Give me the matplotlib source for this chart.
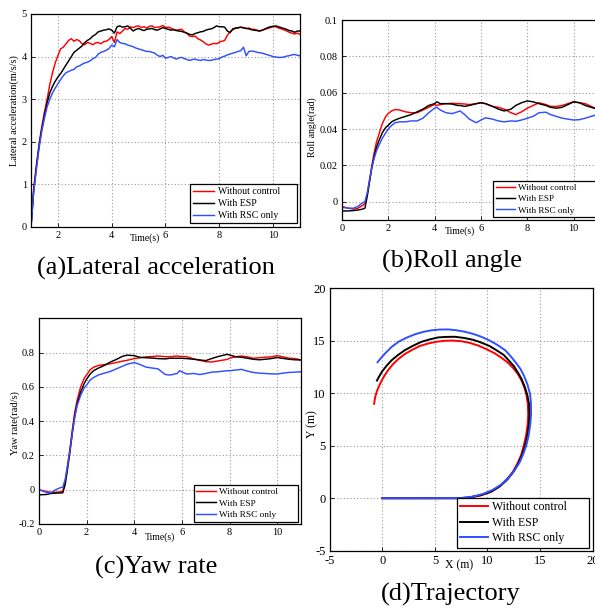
import numpy as np
import matplotlib
matplotlib.use('Agg')
from matplotlib import pyplot as plt

plt.rcParams['font.family'] = ['Liberation Serif', 'DejaVu Serif']
plt.rcParams['axes.unicode_minus'] = False

labels = ['Without control', 'With ESP', 'With RSC only']
colors = ['#ff0000', '#000000', '#3050ff']

# (a) lateral acceleration, sampled every 0.1 s from 1 s to 11 s
t_a = np.linspace(1.0, 11.0, 101)
acc_red = [0.0, 0.9, 1.45, 1.95, 2.35, 2.7, 3.0, 3.35, 3.62, 3.85,
           4.02, 4.18, 4.22, 4.3, 4.38, 4.42, 4.36, 4.4, 4.37, 4.3,
           4.28, 4.33, 4.31, 4.28, 4.32, 4.33, 4.3, 4.35, 4.36, 4.4,
           4.47, 4.33, 4.58, 4.54, 4.6, 4.66, 4.64, 4.7, 4.68, 4.71,
           4.72, 4.68, 4.7, 4.67, 4.71, 4.72, 4.68, 4.69, 4.7, 4.73,
           4.68, 4.69, 4.67, 4.64, 4.62, 4.63, 4.64, 4.58, 4.54, 4.48,
           4.47, 4.48, 4.42, 4.39, 4.35, 4.3, 4.27, 4.29, 4.31, 4.3,
           4.34, 4.36, 4.38, 4.5, 4.58, 4.63, 4.66, 4.67, 4.69, 4.68,
           4.66, 4.67, 4.64, 4.64, 4.62, 4.6, 4.62, 4.64, 4.66, 4.68,
           4.7, 4.7, 4.67, 4.65, 4.63, 4.6, 4.57, 4.55, 4.53, 4.55,
           4.52]
acc_black = [0.0, 0.85, 1.4, 1.9, 2.3, 2.62, 2.92, 3.15, 3.3, 3.42,
             3.52, 3.6, 3.7, 3.8, 3.9, 4.0, 4.1, 4.15, 4.2, 4.25,
             4.33, 4.38, 4.42, 4.48, 4.52, 4.58, 4.6, 4.62, 4.63, 4.65,
             4.62, 4.55, 4.7, 4.72, 4.69, 4.7, 4.72, 4.66, 4.6, 4.64,
             4.66, 4.63, 4.61, 4.64, 4.65, 4.66, 4.63, 4.62, 4.65, 4.68,
             4.66, 4.64, 4.62, 4.63, 4.61, 4.6, 4.59, 4.57, 4.55, 4.52,
             4.51, 4.54, 4.56, 4.58, 4.59, 4.62, 4.64, 4.65, 4.68, 4.72,
             4.7, 4.7, 4.69, 4.6, 4.56, 4.65, 4.67, 4.68, 4.69, 4.67,
             4.66, 4.65, 4.63, 4.62, 4.61, 4.6, 4.62, 4.65, 4.68, 4.7,
             4.71, 4.72, 4.7, 4.68, 4.66, 4.64, 4.61, 4.6, 4.57, 4.6,
             4.6]
acc_blue = [0.0, 0.82, 1.35, 1.85, 2.25, 2.55, 2.82, 3.0, 3.15, 3.26,
            3.36, 3.46, 3.55, 3.62, 3.65, 3.68, 3.7, 3.76, 3.78, 3.82,
            3.85, 3.87, 3.9, 3.95, 3.98, 4.06, 4.1, 4.12, 4.15, 4.19,
            4.27, 4.23, 4.4, 4.33, 4.31, 4.3, 4.27, 4.25, 4.23, 4.2,
            4.18, 4.16, 4.14, 4.12, 4.12, 4.1, 4.08, 4.03, 4.0, 4.03,
            3.96, 3.98, 4.0, 3.97, 3.94, 3.97, 3.98, 3.95, 3.93, 3.91,
            3.93, 3.94, 3.92, 3.91, 3.93, 3.92, 3.91, 3.91, 3.93, 3.94,
            3.95, 3.99, 4.01, 4.04, 4.06, 4.08, 4.1, 4.12, 4.14, 4.22,
            4.02, 4.12, 4.13, 4.12, 4.1, 4.09, 4.08, 4.06, 4.04, 4.02,
            4.0, 3.99, 3.98, 3.98, 3.99, 4.01, 4.02, 4.04, 4.05, 4.03,
            4.02]

# (b) roll angle
t_b = [0, 0.3, 0.5, 0.7, 0.9, 1.0, 1.1, 1.2, 1.3, 1.4,
       1.5, 1.6, 1.75, 1.9, 2.0, 2.15, 2.3, 2.5, 2.75, 3.0,
       3.25, 3.5, 3.75, 4.0, 4.1, 4.25, 4.5, 4.75, 5.0, 5.1,
       5.3, 5.5, 5.8, 6.0, 6.2, 6.5, 6.75, 7.0, 7.3, 7.5,
       7.75, 8.0, 8.25, 8.5, 8.8, 9.0, 9.25, 9.5, 9.75, 10.0,
       10.25, 10.5, 10.75, 11.0]
roll_red = [-0.0025, -0.0035, -0.004, -0.0035, -0.002, -0.001, 0.004, 0.012, 0.02, 0.027,
            0.033, 0.037, 0.043, 0.047, 0.0485, 0.05, 0.0508, 0.0505, 0.0495, 0.049,
            0.049, 0.0505, 0.052, 0.0535, 0.053, 0.0535, 0.054, 0.0542, 0.054, 0.054,
            0.0538, 0.0535, 0.054, 0.0545, 0.054, 0.0525, 0.052, 0.051, 0.049, 0.048,
            0.0495, 0.0515, 0.053, 0.0545, 0.0535, 0.0525, 0.0525, 0.053, 0.054, 0.055,
            0.0545, 0.054, 0.0525, 0.051]
roll_black = [-0.005, -0.005, -0.0048, -0.0045, -0.004, -0.0035, 0.003, 0.011, 0.019, 0.025,
              0.03, 0.0335, 0.038, 0.041, 0.042, 0.044, 0.045, 0.046, 0.047, 0.048,
              0.0495, 0.051, 0.053, 0.054, 0.055, 0.054, 0.054, 0.0538, 0.053, 0.053,
              0.0525, 0.053, 0.054, 0.0545, 0.054, 0.0525, 0.051, 0.05, 0.051, 0.053,
              0.0545, 0.0555, 0.055, 0.054, 0.053, 0.052, 0.0515, 0.052, 0.0535, 0.055,
              0.0545, 0.053, 0.052, 0.051]
roll_blue = [-0.003, -0.0035, -0.0035, -0.0025, -0.0005, 0.0, 0.005, 0.012, 0.019, 0.024,
             0.028, 0.031, 0.035, 0.038, 0.04, 0.042, 0.0435, 0.044, 0.044, 0.0445,
             0.0445, 0.046, 0.049, 0.0515, 0.052, 0.0505, 0.049, 0.0485, 0.0495, 0.05,
             0.048, 0.0455, 0.0435, 0.045, 0.0462, 0.0455, 0.0445, 0.044, 0.0445, 0.0443,
             0.045, 0.046, 0.047, 0.049, 0.0493, 0.048, 0.047, 0.046, 0.0455, 0.045,
             0.0452, 0.046, 0.047, 0.048]

# (c) yaw rate
t_c = [0, 0.3, 0.5, 0.7, 0.9, 1.0, 1.1, 1.2, 1.3, 1.4,
       1.5, 1.6, 1.75, 1.9, 2.0, 2.15, 2.3, 2.5, 2.75, 3.0,
       3.25, 3.5, 3.7, 4.0, 4.25, 4.5, 4.75, 5.0, 5.3, 5.5,
       5.8, 5.9, 6.2, 6.5, 6.75, 7.0, 7.25, 7.5, 7.9, 8.0,
       8.25, 8.5, 8.75, 9.0, 9.25, 9.5, 9.75, 10.0, 10.25, 10.5,
       10.75, 11.0]
yaw_red = [0.0, -0.01, -0.015, -0.015, -0.012, -0.008, 0.05, 0.14, 0.24, 0.35,
           0.45, 0.52, 0.6, 0.65, 0.67, 0.7, 0.715, 0.725, 0.73, 0.735,
           0.742, 0.75, 0.755, 0.765, 0.77, 0.775, 0.777, 0.78, 0.776, 0.776,
           0.78, 0.778, 0.776, 0.763, 0.755, 0.747, 0.745, 0.751, 0.76, 0.767,
           0.775, 0.78, 0.775, 0.767, 0.77, 0.773, 0.775, 0.782, 0.775, 0.767,
           0.765, 0.757]
yaw_black = [-0.03, -0.028, -0.022, -0.02, -0.019, -0.018, 0.03, 0.12, 0.22, 0.33,
             0.43, 0.5, 0.57, 0.62, 0.645, 0.675, 0.695, 0.71, 0.725, 0.745,
             0.76, 0.778, 0.785, 0.782, 0.772, 0.77, 0.768, 0.765, 0.763, 0.767,
             0.767, 0.767, 0.765, 0.761, 0.757, 0.753, 0.765, 0.776, 0.79, 0.786,
             0.776, 0.773, 0.767, 0.761, 0.758, 0.761, 0.765, 0.771, 0.766, 0.761,
             0.758, 0.757]
yaw_blue = [0.0, -0.015, -0.018, 0.0, 0.012, 0.015, 0.06, 0.14, 0.23, 0.33,
            0.42, 0.49, 0.55, 0.595, 0.61, 0.64, 0.655, 0.67, 0.68, 0.69,
            0.705, 0.72, 0.732, 0.742, 0.73, 0.715, 0.71, 0.705, 0.672, 0.669,
            0.678, 0.694, 0.675, 0.678, 0.672, 0.678, 0.686, 0.688, 0.694, 0.694,
            0.698, 0.702, 0.692, 0.684, 0.68, 0.678, 0.676, 0.675, 0.68, 0.684,
            0.686, 0.688]

# (d) trajectory
x_red = [0.0, 4.0, 7.0, 8.2, 9.3, 10.3, 11.1, 11.8, 12.4, 12.85, 13.2, 13.45, 13.68, 13.82,
         13.88, 13.84, 13.7, 13.5, 13.2, 12.85, 12.4, 11.9, 11.3, 10.65, 9.9, 9.1, 8.3,
         7.5, 6.7, 5.9, 5.1, 4.35, 3.55, 2.8, 2.1, 1.5, 0.98, 0.55, 0.2, -0.08, -0.33,
         -0.55, -0.7, -0.8]
y_red = [0.0, 0.0, 0.0, 0.06, 0.25, 0.6, 1.1, 1.75, 2.5, 3.3, 4.1, 5.0, 6.0, 7.0,
         8.0, 9.0, 9.9, 10.6, 11.3, 11.9, 12.45, 12.95, 13.4, 13.83, 14.2, 14.55, 14.8,
         14.96, 15.02, 15.0, 14.9, 14.74, 14.5, 14.12, 13.72, 13.25, 12.75, 12.22, 11.7, 11.2, 10.68,
         10.15, 9.6, 9.0]
x_black = [0.0, 4.0, 7.2, 8.1, 9.4, 10.4, 11.2, 11.9, 12.5, 12.95, 13.3, 13.57, 13.8, 13.94,
           14.0, 13.97, 13.8, 13.55, 13.25, 12.88, 12.5, 12.0, 11.55, 10.85, 10.2, 9.3, 8.6,
           7.75, 6.9, 6.1, 5.3, 4.5, 3.7, 2.9, 2.15, 1.5, 0.9, 0.4, -0.05, -0.3, -0.53]
y_black = [0.0, 0.0, 0.0, 0.05, 0.3, 0.65, 1.15, 1.8, 2.55, 3.35, 4.15, 5.0, 6.0, 7.0,
           8.0, 8.9, 9.8, 10.6, 11.35, 12.0, 12.6, 13.15, 13.65, 14.1, 14.5, 14.87, 15.1,
           15.27, 15.38, 15.37, 15.32, 15.13, 14.9, 14.52, 14.12, 13.66, 13.17, 12.63, 12.06, 11.63, 11.21]
x_blue = [0.0, 4.0, 7.5, 8.6, 9.6, 10.5, 11.3, 12.0, 12.6, 13.05, 13.4, 13.7, 13.92, 14.07,
          14.15, 14.14, 14.06, 13.8, 13.48, 13.15, 12.67, 12.19, 11.68, 11.0, 10.25, 9.42, 8.65,
          7.84, 7.05, 6.26, 5.45, 4.68, 3.9, 3.1, 2.3, 1.52, 0.85, 0.26, -0.15, -0.47]
y_blue = [0.0, 0.0, 0.02, 0.15, 0.42, 0.8, 1.3, 1.95, 2.7, 3.4, 4.2, 5.05, 6.0, 7.0,
          8.0, 9.0, 9.9, 10.85, 11.65, 12.3, 12.95, 13.55, 14.1, 14.57, 15.0, 15.38, 15.65,
          15.86, 16.0, 16.08, 16.07, 16.0, 15.85, 15.62, 15.3, 14.9, 14.4, 13.8, 13.35, 12.95]


def style(ax, fs):
    ax.grid(True, color='#9a9a9a', linestyle=(0, (1, 2)), linewidth=0.8)
    ax.tick_params(direction='in', length=3, width=0.6, labelsize=fs, pad=3,
                   top=False, right=False)
    for s in ax.spines.values():
        s.set_linewidth(0.9)
        s.set_color('black')


def legend(ax, fs, hl, lw, box):
    # box = (x0, y0, width) of the legend frame in axes coords
    lg = ax.legend(loc='lower left', bbox_to_anchor=(box[0], box[1], box[2], 0.3),
                   mode='expand', borderaxespad=0, fontsize=fs, handlelength=hl,
                   handletextpad=0.35, labelspacing=0.3, borderpad=0.3,
                   fancybox=False, framealpha=1, edgecolor='black')
    lg.get_frame().set_linewidth(0.9)
    for h in lg.get_lines():
        h.set_linewidth(lw)


fig = plt.figure(figsize=(5.95, 6.10), dpi=100)

# (a)
ax = fig.add_axes([0.0521, 0.6279, 0.4521, 0.3492])
for y, c, l in zip([acc_red, acc_black, acc_blue], colors, labels):
    ax.plot(t_a, y, color=c, lw=1.05, label=l)
ax.set_xlim(1, 11)
ax.set_ylim(0, 5)
ax.set_xticks([2, 4, 6, 8, 10])
ax.set_yticks([0, 1, 2, 3, 4, 5])
style(ax, 7.5)
ax.set_xlabel('Time(s)', fontsize=7)
ax.xaxis.set_label_coords(0.424, -0.03)
ax.set_ylabel('Lateral acceleration(m/s/s)', fontsize=7.5)
ax.yaxis.set_label_coords(-0.045, 0.545)
legend(ax, 7, 2.2, 1.05, (0.591, 0.019, 0.398))

# (b)
ax = fig.add_axes([0.5743, 0.6393, 0.4289, 0.3279])
for y, c, l in zip([roll_red, roll_black, roll_blue], colors, labels):
    ax.plot(t_b, y, color=c, lw=1.05, label=l)
ax.set_xlim(0, 11)
ax.set_ylim(-0.01, 0.1)
ax.set_xticks([0, 2, 4, 6, 8, 10])
ax.set_yticks([0, 0.02, 0.04, 0.06, 0.08, 0.1])
ax.set_yticklabels(['0', '0.02', '0.04', '0.06', '0.08', '0.1'])
style(ax, 7.5)
ax.set_xlabel('Time(s)', fontsize=7)
ax.xaxis.set_label_coords(0.465, -0.033)
ax.set_ylabel('Roll angle(rad)', fontsize=7)
ax.yaxis.set_label_coords(-0.097, 0.4625)
legend(ax, 6.6, 2.1, 1.05, (0.592, 0.0135, 0.404))

# (c)
ax = fig.add_axes([0.0655, 0.1410, 0.4403, 0.3372])
for y, c, l in zip([yaw_red, yaw_black, yaw_blue], colors, labels):
    ax.plot(t_c, y, color=c, lw=1.05, label=l)
ax.set_xlim(0, 11)
ax.set_ylim(-0.2, 1.0)
ax.set_xticks([0, 2, 4, 6, 8, 10])
ax.set_yticks([-0.2, 0, 0.2, 0.4, 0.6, 0.8])
ax.set_yticklabels(['-0.2', '0', '0.2', '0.4', '0.6', '0.8'])
style(ax, 7.5)
ax.set_xlabel('Time(s)', fontsize=7)
ax.xaxis.set_label_coords(0.461, -0.04)
ax.set_ylabel('Yaw rate(rad/s)', fontsize=7.5)
ax.yaxis.set_label_coords(-0.074, 0.49)
legend(ax, 6.7, 2.1, 1.05, (0.590, 0.011, 0.397))

# (d)
ax = fig.add_axes([0.5546, 0.0972, 0.4412, 0.4302])
for x, y, c, l in zip([x_red, x_black, x_blue], [y_red, y_black, y_blue], colors, labels):
    ax.plot(x, y, color=c, lw=1.4, label=l, solid_joinstyle='round')
ax.set_xlim(-5, 20)
ax.set_ylim(-5, 20)
ax.set_xticks([-5, 0, 5, 10, 15, 20])
ax.set_yticks([-5, 0, 5, 10, 15, 20])
style(ax, 9)
ax.set_xlabel('X (m)', fontsize=8.5)
ax.xaxis.set_label_coords(0.492, -0.033)
ax.set_ylabel('Y (m)', fontsize=8.5)
ax.yaxis.set_label_coords(-0.044, 0.483)
legend(ax, 8.5, 2.35, 1.4, (0.483, 0.0114, 0.505))

fig.text(0.262, 1 - 268 / 610, '(a)Lateral acceleration', fontsize=19, ha='center', va='center')
fig.text(0.760, 1 - 261 / 610, '(b)Roll angle', fontsize=19, ha='center', va='center')
fig.text(0.263, 1 - 567 / 610, '(c)Yaw rate', fontsize=19, ha='center', va='center')
fig.text(0.758, 1 - 594 / 610, '(d)Trajectory', fontsize=19, ha='center', va='center')

fig.savefig('out.png', dpi=100)
